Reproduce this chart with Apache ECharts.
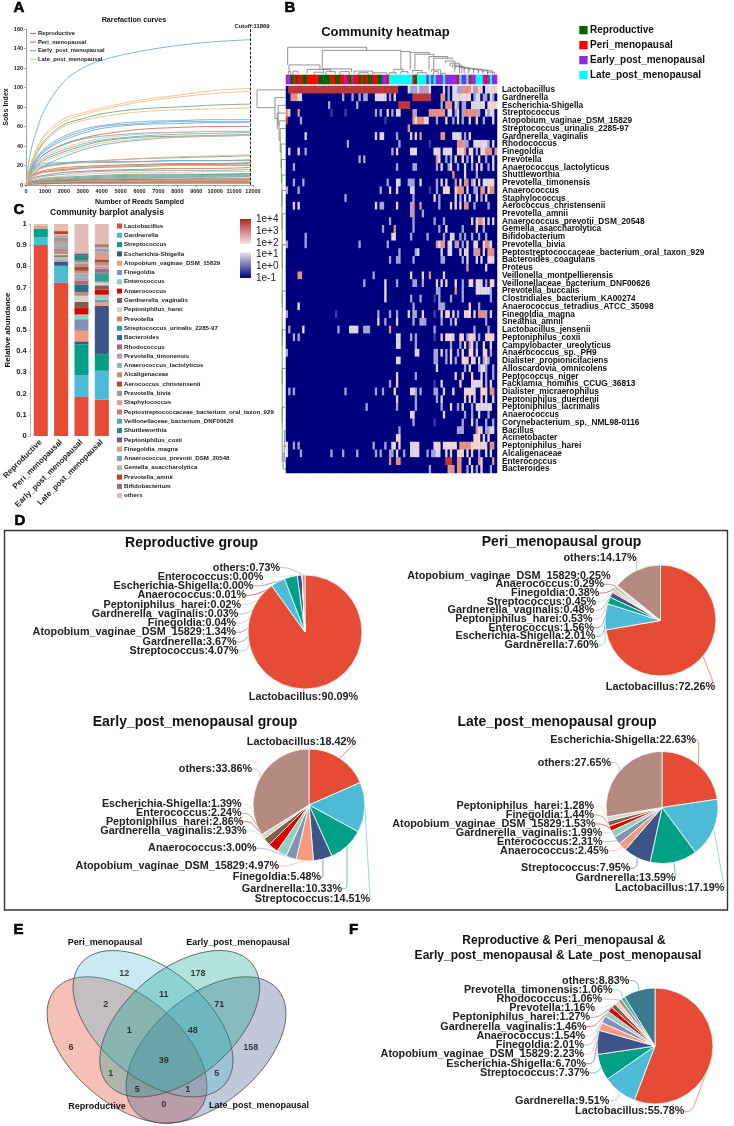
<!DOCTYPE html>
<html><head><meta charset="utf-8">
<style>html,body{margin:0;padding:0;background:#fff}#c{width:734px;height:1126px}</style>
<script src="https://cdn.jsdelivr.net/npm/echarts@6/dist/echarts.min.js"></script></head>
<body><div id="c"></div>
<script>
const FONT='"Liberation Sans",Arial,sans-serif';
/* ---------- A: rarefaction ---------- */
const readsSampled=[0,200,500,1000,2000,3000,4000,6000,8000,10000,11869];
const groups=['Reproductive','Peri_menopausal','Early_post_menopausal','Late_post_menopausal'];
const reproductiveCurves=[
[0,10,18,26,34,40,45,49,50,51,52],[0,10,15,19,22,24,25,27,28,29,30],[0,6,10,13,15,17,18,19,20,20,20],
[0,3,5,7,8,9,10,11,11,11,12],[0,3,5,6,7,8,9,10,10,11,11],[0,3,4,5,6,7,8,9,9,10,10],[0,2,3,4,5,6,7,8,8,9,9],
[0,2,3,4,4,5,5,6,6,6,6],[0,2,3,3,4,4,4,5,5,5,5],[0,1,2,2,3,3,3,3,4,4,4],[0,1,1,2,2,2,2,2,2,2,2],[0,16,30,46,62,68,73,78,80,82,83]];
const periCurves=[
[0,11,22,32,42,48,52,57,59,60,60],[0,8,12,15,18,19,20,21,22,22,23],[0,8,11,14,16,18,19,20,21,21,22],
[0,5,8,10,13,14,15,16,17,17,18],[0,2,3,4,5,5,6,6,6,7,7],[0,1,2,3,4,4,5,5,5,5,6],[0,1,2,2,3,3,3,4,4,4,4],[0,1,2,2,2,3,3,3,3,3,3],[0,1,1,1,2,2,2,2,2,2,2]];
const earlyCurves=[
[0,30,52,78,106,120,128,137,143,147,149],[0,14,26,38,50,57,61,65,66,67,67],[0,13,25,36,48,55,60,63,65,65,65],
[0,12,24,35,46,53,58,62,63,64,64],[0,11,22,32,41,47,50,53,54,55,55],[0,10,19,28,36,42,46,50,52,53,54],
[0,7,13,20,29,36,41,46,49,50,51],[0,13,19,22,23,24,24,24,25,25,26],[0,11,17,20,22,23,23,24,25,25,25],
[0,4,7,9,11,13,14,15,15,15,16],[0,2,3,4,5,6,6,7,8,8,9]];
const lateCurves=[
[0,18,34,52,68,74,79,87,92,97,99],[0,17,33,50,65,72,77,85,90,94,96],[0,15,29,44,60,66,70,75,77,78,79],
[0,10,20,30,38,44,48,52,54,55,55],[0,8,16,24,32,38,43,47,49,50,51],[0,9,14,18,21,23,25,27,29,30,31],
[0,6,10,14,17,18,19,20,20,20,21],[0,3,5,7,9,11,12,13,13,14,14],[0,1,2,3,3,4,4,4,5,5,5]];
const curveColors=['#5f9a78','#c8634a','#5fa4d0','#f0b47c'];
const cutoff=11869;

/* ---------- B: heatmap ---------- */
const taxa=['Lactobacillus','Gardnerella','Escherichia-Shigella','Streptococcus','Atopobium_vaginae_DSM_15829','Streptococcus_urinalis_2285-97','Gardnerella_vaginalis','Rhodococcus','Finegoldia','Prevotella','Anaerococcus_lactolyticus','Shuttleworthia','Prevotella_timonensis','Anaerococcus','Staphylococcus','Aerococcus_christensenii','Prevotella_amnii','Anaerococcus_prevotii_DSM_20548','Gemella_asaccharolytica','Bifidobacterium','Prevotella_bivia','Peptostreptococcaceae_bacterium_oral_taxon_929','Bacteroides_coagulans','Proteus','Veillonella_montpellierensis','Veillonellaceae_bacterium_DNF00626','Prevotella_buccalis','Clostridiales_bacterium_KA00274','Anaerococcus_tetradius_ATCC_35098','Finegoldia_magna','Sneathia_amnii','Lactobacillus_jensenii','Peptoniphilus_coxii','Campylobacter_ureolyticus','Anaerococcus_sp._PH9','Dialister_propionicifaciens','Alloscardovia_omnicolens','Peptococcus_niger','Facklamia_hominis_CCUG_36813','Dialister_micraerophilus','Peptoniphilus_duerdenii','Peptoniphilus_lacrimalis','Anaerococcus','Corynebacterium_sp._NML98-0116','Bacillus','Acinetobacter','Peptoniphilus_harei','Alcaligenaceae','Enterococcus','Bacteroides'];
// Each row lists its non-background cells as "column(s):level"; all others sit at 1e-1.
const levelValues={a:0,b:0.7,c:1.4,d:2.2,e:2.9,f:3.8};
const heatRows=[
"1-47:f 52:c 53-54:b 55:b 56:d 57:b 58:b 59:e 60:b 61:d 67:c 69:b 71-72:c 73-74:b 75-78:e 79:d 80:b 81:e 82:c 83:d 85-86:c 87-89:d",
"2-4:e 5-6:c 24:b 28:b 31:b 33-34:b 38-41:c 42:d 44:b 46:c 54-61:f 66-67:e 69:b 71-74:c 75-77:d 78:c 80:b 81-82:c 84:b 85:b 87:c 88:b",
"18:b 30:b 48-52:f 66:b 68-70:e 72:c 73:b 75-76:b 79:c 80-84:c 86:d 87-89:d",
"0:e 1:d 5:e 19:a 25:a 38:b 40:b 43:d 45:b 47-48:c 54:e 55:b 61-67:e 69-70:c 72:b 73:c 75:b 76-81:e 82:b 85:c 86:b 87-88:c",
"0:f 6:b 42:a 54:e 55:d 56-58:e 59:c 60:d 64:b 68:d 71:b 73:c 75:b 78:c 81:d 84:b 88:c",
"52:e",
"8:c 38:c 40-41:c 47:b 53:c 55:d 57:e 66-67:e 71-73:c 74:d 76:b 78:d",
"26:b 48:b 61:a 73-75:e 76-77:b 80-85:c 86:b 88:c",
"1:c 5:c 8:b 45:b 47:d 53-55:c 63:d 64-65:c 67-70:c 73-75:d 76:e 78-79:d 81:b 83-84:d 85-87:e 89:e",
"31:b 33:b 64:e 65:d 68:b 70:b 72:c 75:d 77:b 79:c 82:d 85:b 88:c",
"3:b 47:b 54-55:b 64:b 66:c 69:b 70:c 73:b 76:c 79:b 81:d 83:c 86:b 88:c",
"71:e 76:d 81:b",
"3:b 7:b 43:b 47-48:c 52:b 53-54:b 57:c 64:b 66:c 68:c 72:e 74:d 76-77:e 79:b 80:c 82:d 84-85:c 86-88:d",
"0:b 5:b 40:b 44:c 47:d 53-54:c 61:a 64:b 67-69:d 72:d 73-75:e 77:c 80:b 81:b 83-84:e 86:d 87-88:e",
"25:b 54:b 63:d 65:b 72:c 74:b 76:c 78:c 81:c 83:b 85:d",
"3:c 5:c 38:c 40-41:b 47:c 53:b 54:e 57:e 65:b 70:c 72:d 74:d 76-77:e 80:b 86:b",
"53:e 54:b 58:b",
"44:b 54:b 63:b 67:b 79:c 81:c 82-83:e 84:c 86:c 88:c",
"41:b 46:e 54:b 65:b 68:c 75:b 81:c 84:b",
"8:b 45-46:d 53:b 60:b 67:b 70-71:c 74:b 76:b 79:b 82:b 85:b",
"0:b 8:b 31:b 43:b 64:e 65:c 66-67:e 69:c 70:d 72:b 73:e 75:b 77:c 80:c 81:d 84:d 85-86:e 87:c",
"48:b 55:b 56:c 66:c 69-70:c 74:c 76-77:d 80:b 81-82:e 84:c 86-88:e",
"44:b 47-48:b 54:b 66:b 67:b 75:b 77:c 81:c 83:c 86-88:d",
"77:e 85:c",
"5-6:e 37:b 53:d 58:c 61:e 67:c",
"33:b 42:c 47:b 54-55:b 58:b 64:d 66:c 68:d 72:d 75:b 78-79:d 81-83:c 85:b 87-88:d",
"42:d 64:b 65:b 72:e 75:b 81-86:c 87:b",
"42:d 53:b 57:b 63:a 65:b 70:b 75:b 87:b",
"5:c 54:b 65-67:b 78:d 82:b",
"0:b 21:a 39:b 44:b 47:b 52:c 54:b 55:b 58:c 63:a 66:c 68-69:d 71:d 73:b 76-78:d 80:d 82-84:e 85:b 87:c",
"39:c 42:b 47:c 54:b 57-59:b 66:b 70:b 72:d 85:b",
"1:b 7:d 22:b 27-30:c 33-35:b 44:e 63:b 80:b 86:b",
"3:b 5:b 47-48:c 53:b 55:b 63:a 66:c 68-71:d 74-75:d 77:b 78-80:d 82:b 85-88:d",
"47-48:c 55:b 70:b 74:b 76:c 78:e 79:c 81:b 84:d 87:d",
"0:b 55-56:c 63-64:b 66:c 68:b 70:c 73:b 75:d 78-79:d 81:c 84-85:d 87:b",
"47-48:c 63-64:b 68:b 70:c 72:b 75-77:d 79-80:d 82:c 84:b 85:d 86:b",
"64:c 76:b 78:c 82:b 83-84:c 85:b 88:b",
"47:c 55:b 72:c 75:c 79:d 83:c 85:b 88:b",
"44:b 47:c 63:a 66:c 74:d 79-82:c 83:d 85:b 87:c",
"1:b 3:b 25:b 38:b 41:b 46:d 53-54:c 55:b 57:b 63-64:b 67:c 71:c 76-79:d 80:c 83-85:d 87-88:e",
"47:c 55:b 64:b 66:c 76:c 78:c 80:d 83:d 85:c 88:d",
"34:b 47:b 55:b 66:b 70:c 73:b 75:c 79:b 81-87:c",
"53-54:c 67:d 76:b 79:b 82:c 86:b",
"54:b 63:a 75:b 79:c 81:b 85:b 88:b",
"48:b 73-75:b 81:e 82-83:c 85-86:b 87-88:c",
"47-48:d 80-82:d 84:c 86:d",
"0:c 3:b 5:b 37:b 42:b 45-46:c 48:d 53-56:c 63-65:d 67:c 68-72:d 74-78:e 79-84:d 85:c 87-88:e",
"0:c 6:b 19:b 24:b 30:b 38:b 40:b 44-45:b 47:c 50:b 53-56:c 60:b 62-63:b 64-65:c 68:d 70:c 73-75:d 77:c 79:d 82:b 85:c 87:c",
"44:e 47-48:e 68-70:f 73-74:e 78:c 82:e 83:d 88:e",
"61:b 69-71:e 73-74:e 77:b 79:c 81:b 83:d 87:b"];
const COLS=90;
const sampleGroups="EERPRPPRR"+"PPPPP"+"RRRRR"+"PP"+"RR"+"PP"+"EPREPPRPRPRRPPRREEP"+"LLLLLLLLLL"+"PR"+"LLLL"+"ELELEEELEEEEEPLEELPEELLLEPELEE";
const groupCode={R:0,P:1,E:2,L:3};
const groupColors=['#006400','#ff0000','#8a2be2','#00ffff'];
// dendrogram merges: [from, to, childHeightFrom, childHeightTo, mergeHeight]
const topMerges=[
[0.7,34.4,.36,.88,.99],[15.5,49,.22,.84,.88],[49,53,.2,.80,.84],[53,61,.2,.74,.80],[55,63,.2,.66,.74],[61,69,.18,.6,.66],[63,71,.16,.55,.6],
[1.3,14.5,.12,.2,.36],[1,2,0,0,.12],[3,5,0,.05,.14],[9,19,.06,.1,.2],[12,16,0,.04,.1],[17,21,0,.04,.12],[16,28,.12,.1,.22],[23,27,0,.03,.12],[29,37,.06,.08,.14],[31,35,0,.03,.08],[37,43,.02,.02,.08],
[46,50,.08,.12,.2],[44,47,0,.02,.08],[49,52,.03,.04,.12],[54,58,.06,.08,.16],[56,60,0,.03,.08],[62,66,.12,.06,.18],[63,65,0,.03,.12],[66,68,0,.02,.06],
[68,72,.42,.1,.5],[70,74,.3,.06,.42],[71,75,.25,.06,.35],[72,76,.22,.06,.3],[74,78,.2,.06,.27],[76,80,.18,.05,.24],[78,82,.16,.05,.22],[80,84,.14,.04,.2],[82,86,.12,.04,.18],[84,88,.1,.03,.15],[86,89,.03,.03,.1]];
const leftMerges=[
[0,2.3,0,.38,1],[1,3.7,0,.3,.38],[3,5,0,.27,.3],[2,4.5,0,.22,.27],[4,6.5,0,.2,.24],[5,8,0,.16,.2],[7,10,0,.14,.17],[9,12,0,.14,.16],[11,15,0,.12,.14],[13,18,0,.12,.14],[16,23,0,.12,.13],[20,28,0,.12,.13],[26,33,0,.12,.13],[31,38,0,.12,.13],[36,43,0,.12,.13],[41,48,.03,.1,.13],[44,46,0,0,.05],[46,48,0,0,.06],[47,49,.04,0,.1]];

/* ---------- C: stacked bars ---------- */
const barCategories=['Reproductive','Peri_menopausal','Early_post_menopausal','Late_post_menopausal'];
const barTaxa=['Lactobacillus','Gardnerella','Streptococcus','Escherichia-Shigella','Atopobium_vaginae_DSM_15829','Finegoldia','Enterococcus','Anaerococcus','Gardnerella_vaginalis','Peptoniphilus_harei','Prevotella','Streptococcus_urinalis_2285-97','Bacteroides','Rhodococcus','Prevotella_timonensis','Anaerococcus_lactolyticus','Alcaligenaceae','Aerococcus_christensenii','Prevotella_bivia','Staphylococcus','Peptostreptococcaceae_bacterium_oral_taxon_929','Veillonellaceae_bacterium_DNF00626','Shuttleworthia','Peptoniphilus_coxii','Finegoldia_magna','Anaerococcus_prevotii_DSM_20548','Gemella_asaccharolytica','Prevotella_amnii','Bifidobacterium','others'];
const barColors=['#E64B35','#4DBBD5','#00A087','#3C5488','#F39B7F','#8491B4','#91D1C2','#DC0000','#7E6148','#D8D3CE','#BC8A7E','#2EA394','#2F6F7E','#A36B85','#C39AA0','#8FB5BA','#C98D70','#A94A35','#A69490','#EE9A8A','#D9705E','#3EAFB5','#2C8A7B','#6E5A83','#D7A095','#86A3BF','#BCB5A5','#C63A22','#91746E','#E3BEB4'];
const reproductiveBar=[.9009,.0367,.0407,0,.0134,.0004,0,.0001,.0003,.0002,.0005,0,0,0,.0003,.0002,0,.0001,.0003,0,.0001,0,0,0,.0001,0,0,.0001,0,.0057];
const periBar=[.7226,.076,.0045,.0201,.0025,.0038,.0156,.0029,.0048,.0053,.02,.001,.002,.001,.018,.015,.002,.002,.018,.001,.001,.002,.001,.001,.003,.003,.004,.013,.003,.0315];
const earlyBar=[.1842,.1033,.1451,.0139,.0497,.0548,.0224,.03,.0293,.0286,.018,0,.036,.016,.018,.018,.012,.018,.014,.008,.006,.005,.023,.008,.002,.002,0,.001,0,.1346];
const lateBar=[.1719,.1359,.0795,.2263,.0153,.0144,.0231,.0245,.0199,.0128,.004,.04,.002,.02,.01,.004,.015,.012,.008,.018,0,0,0,.004,.012,.012,.008,0,.012,.095];

/* ---------- D / F: pies ---------- */
const piePalette=['#E64B35','#4DBBD5','#00A087','#3C5488','#F39B7F','#8491B4','#91D1C2','#DC0000','#7E6148','#D9D2C9','#B58A80'];
const reproductiveNames=['Lactobacillus','Streptococcus','Gardnerella','Atopobium_vaginae_DSM_15829','Finegoldia','Gardnerella_vaginalis','Peptoniphilus_harei','Anaerococcus','Escherichia-Shigella','Enterococcus','others'];
const reproductiveShares=[90.09,4.07,3.67,1.34,.04,.03,.02,.01,0,0,.73];
const periNames=['Lactobacillus','Gardnerella','Escherichia-Shigella','Enterococcus','Peptoniphilus_harei','Gardnerella_vaginalis','Streptococcus','Finegoldia','Anaerococcus','Atopobium_vaginae_DSM_15829','others'];
const periShares=[72.26,7.6,2.01,1.56,.53,.48,.45,.38,.29,.25,14.17];
const earlyNames=['Lactobacillus','Streptococcus','Gardnerella','Finegoldia','Atopobium_vaginae_DSM_15829','Anaerococcus','Gardnerella_vaginalis','Peptoniphilus_harei','Enterococcus','Escherichia-Shigella','others'];
const earlyShares=[18.42,14.51,10.33,5.48,4.97,3,2.93,2.86,2.24,1.39,33.86];
const lateNames=['Escherichia-Shigella','Lactobacillus','Gardnerella','Streptococcus','Anaerococcus','Enterococcus','Gardnerella_vaginalis','Atopobium_vaginae_DSM_15829','Finegoldia','Peptoniphilus_harei','others'];
const lateShares=[22.63,17.19,13.59,7.95,2.45,2.31,1.99,1.53,1.44,1.28,27.65];
const sharedNames=['Lactobacillus','Gardnerella','Streptococcus','Escherichia-Shigella','Atopobium_vaginae_DSM_15829','Finegoldia','Anaerococcus','Gardnerella_vaginalis','Peptoniphilus_harei','Prevotella','Rhodococcus','Prevotella_timonensis','others'];
const sharedShares=[55.78,9.51,7.37,6.7,2.23,2.01,1.54,1.46,1.27,1.16,1.06,1.06,8.83];
const sharedPalette=['#E64B35','#4DBBD5','#00A087','#3C5488','#F39B7F','#8491B4','#91D1C2','#DC0000','#7E6148','#D9D2C9','#B58A80','#3CB7B0','#397B8C'];
// label anchors (right edge, middle) — layout only
const repLabelPos=[[358,697],[238.7,651],[236.7,641.7],[236,632.3],[236,623.3],[238.3,614],[241,604.7],[246,595.3],[253.3,586],[263.3,577],[280,567.7]];
const periLabelPos=[[715,686.7],[598.7,645],[595.3,636.3],[594,627.7],[592.7,619],[594,610.3],[596,601.7],[599.3,593],[604,584.3],[610.7,575.7],[636.7,558.3]];
const earlyLabelPos=[[356,742.3],[370,899],[342,888.7],[321,877.3],[279,866],[256.7,848.3],[246.7,830.7],[243.3,821.7],[241.7,813.3],[241.7,804],[252,769]];
const lateLabelPos=[[696,740],[724.3,888],[675.7,878],[630.3,868.3],[608.7,850.7],[602.7,841.7],[602.3,832.7],[595.7,824],[594,815],[594,806],[611,762.7]];
const sharedLabelPos=[[684.3,1111.3],[609.3,1100.7],[589.3,1073],[586,1063.7],[584,1054.3],[584,1045],[585,1036],[586.7,1026.7],[590,1017.3],[595,1008],[602,999],[612.7,989.7],[629.3,980.7]];

/* ---------- E: venn ---------- */
const vennCounts=[12,178,2,11,71,6,1,48,158,39,1,5,5,1,0];
const vennCountPos=[[124.3,973.3],[198,973.3],[105.7,1005],[163.7,994.3],[219.3,1005],[71,1047.3],[129.3,1031],[192.7,1031],[250.7,1047.3],[163.7,1060.3],[110.7,1073.7],[216.7,1073.7],[137.3,1089.3],[187.7,1089.3],[163.7,1105]];
// ellipse [cx, cy, rx, ry, degrees]
const vennEllipses=[[127,1050,94,54,-40],[206,1050,94,54,40],[153,1023.7,94,54,-40],[179.7,1023.7,94,54,40]];
const vennColors=['rgba(230,75,53,.35)','rgba(60,84,136,.32)','rgba(77,187,213,.3)','rgba(0,160,135,.3)'];

/* ---------- build ---------- */
function parseRow(s,r){const out=[];for(let c=0;c<COLS;c++)out[c]=-1;
 s.split(' ').forEach(t=>{const [rng,l]=t.split(':');const [a,b]=rng.split('-').map(Number);for(let c=a;c<=(b===undefined?a:b);c++)out[c]=levelValues[l];});
 return out.map((v,c)=>[c,r,v]);}
const heatData=heatRows.flatMap((s,r)=>parseRow(s,r));
const annoData=sampleGroups.split('').slice(0,COLS).map((g,i)=>[i,0,groupCode[g]]);

function titleT(text,x,y,size,weight,extra){return {text,left:x,top:y,textAlign:'center',textVerticalAlign:'middle',padding:0,textStyle:Object.assign({fontFamily:FONT,fontSize:size,fontWeight:weight===undefined?'bold':weight,color:'#111'},extra||{})};}
const heavy={color:'#000',textBorderColor:'#000',textBorderWidth:.6};
const titles=[
 titleT('Rarefaction curves',134,20,7.2),
 titleT('Community heatmap',385.5,32,13),
 titleT('Community barplot analysis',107,213,8.5),
 titleT('Reproductive group',191.6,543,14),
 titleT('Peri_menopausal group',561.5,542,14),
 titleT('Early_post_menopausal group',195,722,14),
 titleT('Late_post_menopausal group',557,722,14),
 titleT('Reproductive & Peri_menopausal &',564,941,12),
 titleT('Early_post_menopausal & Late_post_menopausal',558,955.7,12),
 titleT('A',19,8,15,900,heavy),titleT('B',290,8,15,900,heavy),titleT('C',19,210,15,900,heavy),
 titleT('D',20,521,15,900,heavy),titleT('E',18.5,930,15,900,heavy),titleT('F',353.5,930,15,900,heavy),
 titleT('Peri_menopausal',105,943,9),titleT('Early_post_menopausal',238,943,9),
 titleT('Reproductive',97,1107,9),titleT('Late_post_menopausal',259,1106,9),
 titleT('Cutoff:11869',252,26.5,5.8)
];
// grids: 0 A,1 heat,2 anno,3 top dendro,4 left dendro,5 C,6 overlay
const grid=[
 {left:26,top:29,width:227,height:156},
 {left:286,top:86,width:211,height:387,show:true,backgroundColor:'#00007f',borderWidth:0},
 {left:286,top:75,width:211,height:9},
 {left:286,top:47,width:211,height:28},
 {left:257,top:86,width:29,height:387},
 {left:28,top:224,width:84,height:212},
 {left:0,top:0,width:734,height:1126}
];
const hiddenVal=(o)=>Object.assign({type:'value',show:false,splitLine:{show:false}},o);
const xAxis=[
 {gridIndex:0,type:'value',min:0,max:12000,interval:1000,name:'Number of Reads Sampled',nameLocation:'middle',nameGap:14,
  nameTextStyle:{fontFamily:FONT,fontSize:7,fontWeight:'bold',color:'#111'},
  axisLine:{lineStyle:{color:'#777',width:.7}},axisTick:{length:2,lineStyle:{color:'#777',width:.6}},splitLine:{show:false},
  axisLabel:{formatter:v=>String(v),fontFamily:FONT,fontSize:5.5,fontWeight:'bold',color:'#222',margin:3,showMaxLabel:true,hideOverlap:false}},
 {gridIndex:1,type:'category',data:Array.from({length:COLS},(_,i)=>i),show:false},
 {gridIndex:2,type:'category',data:Array.from({length:COLS},(_,i)=>i),show:false},
 hiddenVal({gridIndex:3,min:0,max:COLS}),
 hiddenVal({gridIndex:4,min:0,max:1,inverse:true}),
 {gridIndex:5,type:'category',data:barCategories,axisTick:{show:false},axisLine:{show:false},
  axisLabel:{interval:0,rotate:45,fontFamily:FONT,fontSize:8,fontWeight:'bold',color:'#222',margin:5}},
 hiddenVal({gridIndex:6,min:0,max:734})
];
const yAxis=[
 {gridIndex:0,type:'value',min:0,max:160,interval:20,name:'Sobs Index',nameLocation:'middle',nameGap:14,
  nameTextStyle:{fontFamily:FONT,fontSize:7,fontWeight:'bold',color:'#111'},
  axisLine:{show:true,lineStyle:{color:'#777',width:.7}},axisTick:{show:true,length:2,lineStyle:{color:'#777',width:.6}},splitLine:{show:false},
  axisLabel:{fontFamily:FONT,fontSize:5.5,fontWeight:'bold',color:'#222',margin:3}},
 {gridIndex:1,type:'category',data:taxa,inverse:true,position:'right',axisLine:{show:false},axisTick:{show:false},
  axisLabel:{interval:0,fontFamily:FONT,fontSize:8.3,fontWeight:'bold',color:'#111',margin:5}},
 {gridIndex:2,type:'category',data:['g'],show:false},
 hiddenVal({gridIndex:3,min:0,max:1}),
 hiddenVal({gridIndex:4,min:0,max:50,inverse:true}),
 {gridIndex:5,type:'value',min:0,max:1,interval:.1,name:'Relative abundance',nameLocation:'middle',nameGap:17,
  nameTextStyle:{fontFamily:FONT,fontSize:8,fontWeight:'bold',color:'#111'},
  axisLine:{show:true,lineStyle:{color:'#999',width:.7}},axisTick:{show:true,length:2,lineStyle:{color:'#999',width:.6}},splitLine:{show:false},
  axisLabel:{fontFamily:FONT,fontSize:7.5,fontWeight:'bold',color:'#222',margin:4}},
 hiddenVal({gridIndex:6,min:0,max:1126,inverse:true})
];
const series=[];
[reproductiveCurves,periCurves,earlyCurves,lateCurves].forEach((set,g)=>set.forEach((c,i)=>{
 series.push({type:'line',name:groups[g],xAxisIndex:0,yAxisIndex:0,smooth:.35,showSymbol:false,silent:true,
  lineStyle:{width:.8,color:curveColors[g]},itemStyle:{color:curveColors[g]},
  data:c.map((v,k)=>[readsSampled[k],v])});
}));
series.push({type:'line',name:'cutoff',xAxisIndex:0,yAxisIndex:0,data:[],markLine:{silent:true,symbol:'none',label:{show:false},
  lineStyle:{color:'#222',type:[3,1.5],width:1},data:[{xAxis:cutoff}]}});
const heatIdx=series.length;
series.push({type:'heatmap',xAxisIndex:1,yAxisIndex:1,data:heatData,progressive:0,silent:true,emphasis:{disabled:true}});
const annoIdx=series.length;
series.push({type:'heatmap',xAxisIndex:2,yAxisIndex:2,data:annoData,progressive:0,silent:true,emphasis:{disabled:true}});
const bracket=(horizontal)=>function(params,api){
 const a=api.value(0),b=api.value(1),ha=api.value(2),hb=api.value(3),top=api.value(4);
 const pt=(p,h)=>horizontal?api.coord([p,h]):api.coord([h,p]);
 return {type:'polyline',shape:{points:[pt(a,ha),pt(a,top),pt(b,top),pt(b,hb)]},style:{fill:null,stroke:'#777',lineWidth:.8}};
};
series.push({type:'custom',xAxisIndex:3,yAxisIndex:3,data:topMerges,renderItem:bracket(true),silent:true,clip:false});
series.push({type:'custom',xAxisIndex:4,yAxisIndex:4,data:leftMerges.map(m=>[m[0]+.5,m[1]+.5,m[2],m[3],m[4]]),renderItem:bracket(false),silent:true,clip:false});
const barSets=[reproductiveBar,periBar,earlyBar,lateBar];
barTaxa.forEach((t,i)=>series.push({type:'bar',name:t,stack:'abund',xAxisIndex:5,yAxisIndex:5,barWidth:14,silent:true,
 itemStyle:{color:barColors[i]},data:barSets.map(s=>s[i])}));
function pie(names,shares,palette,cx,cy,r,pos){
 series.push({type:'pie',center:[cx,cy],radius:[0,r],startAngle:90,clockwise:true,avoidLabelOverlap:false,silent:true,
  itemStyle:{borderColor:'#fff',borderWidth:.8},
  label:{show:true,position:'outside',formatter:p=>p.name+':'+p.value.toFixed(2)+'%',fontFamily:FONT,fontSize:10.8,fontWeight:'bold',color:'#222'},
  labelLine:{show:true,length:6,length2:8,smooth:.4,lineStyle:{width:.6}},
  labelLayout:p=>({x:pos[p.dataIndex][0],y:pos[p.dataIndex][1],align:'right',verticalAlign:'middle'}),
  data:names.map((n,i)=>({name:n,value:shares[i],itemStyle:{color:palette[i]}}))});
}
pie(reproductiveNames,reproductiveShares,piePalette,305,632,57,repLabelPos);
pie(periNames,periShares,piePalette,660.5,620.5,55.5,periLabelPos);
pie(earlyNames,earlyShares,piePalette,309,805,56,earlyLabelPos);
pie(lateNames,lateShares,piePalette,662,807.5,56,lateLabelPos);
pie(sharedNames,sharedShares,sharedPalette,655,1046,58,sharedLabelPos);
series.push({type:'custom',xAxisIndex:6,yAxisIndex:6,silent:true,clip:false,data:vennEllipses.map((e,i)=>e.concat(i)),
 renderItem:(p,api)=>{const c=api.coord([api.value(0),api.value(1)]);const s=api.size([api.value(2),api.value(3)]);
  return {type:'ellipse',x:c[0],y:c[1],rotation:api.value(4)*Math.PI/180,shape:{cx:0,cy:0,rx:s[0],ry:s[1]},
   style:{fill:vennColors[api.value(5)],stroke:'#555',lineWidth:.8}};}});
series.push({type:'scatter',xAxisIndex:6,yAxisIndex:6,silent:true,symbolSize:0,
 data:vennCounts.map((n,i)=>[vennCountPos[i][0],vennCountPos[i][1],n]),
 label:{show:true,position:'inside',formatter:p=>String(p.value[2]),fontFamily:FONT,fontSize:9,fontWeight:'bold',color:'#111'}});

const barText=(text,x,y)=>({type:'text',x,y,style:{text,fontFamily:FONT,fontSize:10,fill:'#222',textVerticalAlign:'middle'}});
const graphic=[
 {type:'rect',shape:{x:4.5,y:530.5,width:723,height:379.5},style:{fill:null,stroke:'#333',lineWidth:1.4},z:-1},
 {type:'rect',shape:{x:240,y:219,width:11,height:25},style:{fill:new echarts.graphic.LinearGradient(0,0,0,1,[{offset:0,color:'#b5232b'},{offset:1,color:'#f7e4e0'}])}},
 {type:'rect',shape:{x:240,y:252.5,width:11,height:25.5},style:{fill:new echarts.graphic.LinearGradient(0,0,0,1,[{offset:0,color:'#e4e4f6'},{offset:1,color:'#00007f'}])}},
 ...['1e+4','1e+3','1e+2','1e+1','1e+0','1e-1'].map((t,i)=>barText(t,256,[219.7,231,243,254.5,266,278][i])),
 ...groups.map((g,i)=>({type:'rect',shape:{x:579.3,y:26+15*i,width:8.3,height:8.3},style:{fill:groupColors[i]}})),
 ...groups.map((g,i)=>({type:'text',x:590,y:30+15*i,style:{text:g,fontFamily:FONT,fontSize:10,fontWeight:'bold',fill:'#111',textVerticalAlign:'middle'}}))
];
const option={animation:false,backgroundColor:'#fff',title:titles,grid,xAxis,yAxis,series,graphic,
 legend:[
  {data:groups,orient:'vertical',left:30,top:30.5,itemWidth:6,itemHeight:1,itemGap:2.6,icon:'rect',selectedMode:false,padding:0,
   textStyle:{fontFamily:FONT,fontSize:5.8,fontWeight:'bold',color:'#222',padding:[0,0,0,-3]}},
  {data:barTaxa,orient:'vertical',left:117,top:223,itemWidth:5,itemHeight:5,itemGap:3.3,icon:'rect',selectedMode:false,padding:0,
   textStyle:{fontFamily:FONT,fontSize:6.15,fontWeight:'bold',color:'#222',padding:[0,0,0,-3]}}
 ],
 visualMap:[
  {type:'continuous',show:false,seriesIndex:heatIdx,dimension:2,min:-1,max:4,inRange:{color:['#00007f','#3c3ca2','#cfcfee','#f8e6e2','#de8a7c','#b5232b']}},
  {type:'piecewise',show:false,seriesIndex:annoIdx,dimension:2,pieces:groupColors.map((c,i)=>({value:i,color:c}))}
 ]};
const chart=echarts.init(document.getElementById('c'),null,{renderer:'canvas',width:734,height:1126});
chart.setOption(option);
</script></body></html>
